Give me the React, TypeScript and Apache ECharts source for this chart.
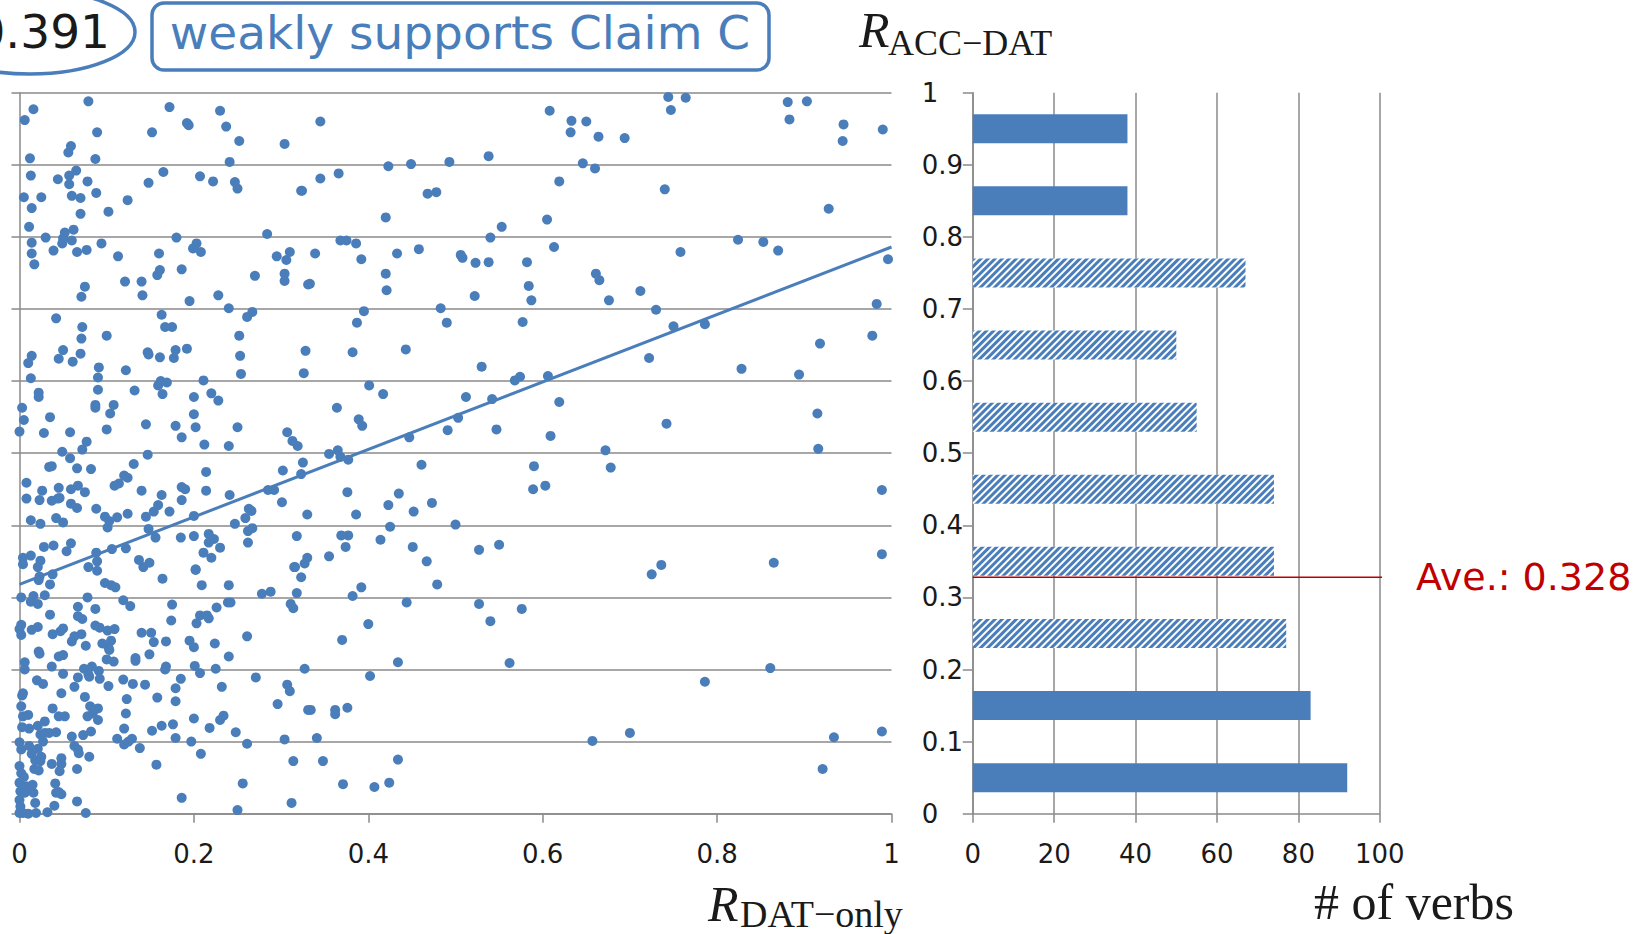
import React, { useEffect, useRef } from "react";
import * as echarts from "echarts";

// ---------- data ----------
// Scatter points [R_DAT-only, R_ACC-DAT], grouped by region of the plot
const UPPER_LEFT: number[][] = [
  [0.016,0.977],[0.006,0.962],[0.079,0.988],[0.172,0.980],[0.192,0.958],[0.194,0.955],[0.230,0.975],[0.237,0.953],[0.252,0.933],[0.304,0.929],
  [0.089,0.945],[0.152,0.945],[0.059,0.926],[0.056,0.917],[0.012,0.909],[0.087,0.908],[0.241,0.904],[0.013,0.885],[0.044,0.880],[0.057,0.885],
  [0.065,0.892],[0.057,0.873],[0.078,0.877],[0.088,0.861],[0.060,0.857],[0.070,0.854],[0.005,0.855],[0.025,0.855],[0.014,0.840],[0.070,0.832],
  [0.102,0.835],[0.124,0.851],[0.148,0.875],[0.165,0.890],[0.207,0.884],[0.222,0.877],[0.247,0.876],[0.250,0.867],[0.323,0.864],[0.011,0.814],
  [0.014,0.792],[0.014,0.777],[0.017,0.762],[0.030,0.799],[0.039,0.781],[0.052,0.806],[0.050,0.798],[0.049,0.791],[0.060,0.795],[0.062,0.810],
  [0.066,0.779],[0.077,0.782],[0.094,0.791],[0.113,0.773],[0.160,0.777],[0.180,0.799],[0.186,0.755],[0.158,0.747],[0.161,0.754],[0.199,0.784],
  [0.203,0.791],[0.208,0.779],[0.121,0.738],[0.140,0.738],[0.141,0.719],[0.075,0.731],[0.071,0.717],[0.195,0.711],[0.228,0.719],[0.240,0.701],
  [0.261,0.689],[0.267,0.696],[0.270,0.746],[0.284,0.804],[0.295,0.773],[0.306,0.768],[0.310,0.779],[0.304,0.749],[0.304,0.739],[0.331,0.734],
  [0.042,0.687],[0.072,0.675],[0.163,0.692],[0.167,0.675],[0.175,0.675],
];
const UPPER_CENTER: number[][] = [
  [0.345,0.960],[0.608,0.975],[0.633,0.961],[0.632,0.945],[0.650,0.960],[0.664,0.939],[0.538,0.912],[0.423,0.898],[0.449,0.901],[0.493,0.904],
  [0.646,0.902],[0.660,0.895],[0.345,0.881],[0.366,0.888],[0.324,0.864],[0.468,0.860],[0.478,0.862],[0.619,0.877],[0.420,0.827],[0.605,0.824],
  [0.553,0.814],[0.540,0.799],[0.368,0.795],[0.375,0.795],[0.386,0.791],[0.339,0.777],[0.392,0.769],[0.433,0.777],[0.458,0.783],[0.506,0.775],
  [0.508,0.771],[0.523,0.764],[0.538,0.765],[0.582,0.765],[0.613,0.786],[0.420,0.749],[0.421,0.726],[0.333,0.735],[0.522,0.718],[0.584,0.732],
  [0.587,0.712],[0.661,0.749],[0.665,0.740],[0.395,0.697],[0.387,0.681],[0.483,0.701],[0.490,0.681],[0.577,0.682],
];
const UPPER_RIGHT: number[][] = [
  [0.694,0.937],[0.744,0.994],[0.764,0.993],[0.747,0.976],[0.881,0.987],[0.903,0.988],[0.883,0.963],[0.945,0.956],[0.944,0.933],[0.990,0.949],
  [0.740,0.866],[0.928,0.839],[0.824,0.796],[0.853,0.793],[0.870,0.781],[0.758,0.779],[0.996,0.769],[0.676,0.712],[0.712,0.725],[0.730,0.699],
  [0.750,0.676],[0.786,0.679],[0.983,0.707],
];
const MIDDLE_LEFT: number[][] = [
  [0.071,0.659],[0.100,0.663],[0.252,0.663],[0.253,0.635],[0.254,0.610],[0.014,0.635],[0.010,0.625],[0.013,0.604],[0.050,0.643],[0.045,0.631],
  [0.061,0.627],[0.070,0.638],[0.091,0.619],[0.090,0.605],[0.090,0.588],[0.122,0.615],[0.147,0.640],[0.148,0.637],[0.161,0.633],[0.179,0.643],
  [0.177,0.632],[0.192,0.645],[0.162,0.600],[0.159,0.594],[0.169,0.598],[0.164,0.582],[0.211,0.601],[0.220,0.583],[0.228,0.573],[0.200,0.578],
  [0.200,0.554],[0.202,0.536],[0.328,0.642],[0.326,0.611],[0.022,0.584],[0.022,0.578],[0.003,0.563],[0.005,0.546],[0.000,0.530],[0.028,0.528],
  [0.035,0.550],[0.058,0.529],[0.087,0.567],[0.087,0.563],[0.108,0.567],[0.104,0.555],[0.100,0.533],[0.132,0.587],[0.145,0.540],[0.179,0.538],
  [0.186,0.522],[0.212,0.512],[0.240,0.510],[0.250,0.536],[0.307,0.529],[0.313,0.517],[0.319,0.510],[0.077,0.516],[0.072,0.505],[0.049,0.502],
  [0.058,0.493],[0.147,0.498],[0.034,0.481],[0.037,0.482],[0.066,0.479],[0.082,0.478],[0.131,0.485],[0.120,0.469],[0.124,0.466],[0.109,0.455],
  [0.114,0.458],[0.008,0.459],[0.008,0.437],[0.026,0.448],[0.023,0.435],[0.037,0.434],[0.045,0.452],[0.046,0.438],[0.044,0.437],[0.059,0.450],
  [0.067,0.455],[0.075,0.446],[0.059,0.430],[0.066,0.424],[0.088,0.423],[0.140,0.448],[0.163,0.442],[0.159,0.428],[0.154,0.419],[0.172,0.419],
  [0.186,0.453],[0.190,0.450],[0.186,0.435],[0.214,0.474],[0.214,0.448],[0.200,0.413],[0.241,0.442],[0.285,0.449],[0.292,0.449],[0.302,0.476],
  [0.301,0.432],[0.325,0.487],[0.323,0.471],[0.263,0.423],[0.266,0.420],[0.259,0.410],[0.262,0.392],[0.267,0.396],[0.262,0.376],[0.330,0.415],
  [0.013,0.407],[0.024,0.402],[0.042,0.410],[0.050,0.404],[0.098,0.412],[0.103,0.406],[0.112,0.411],[0.101,0.397],[0.124,0.416],[0.145,0.412],
  [0.148,0.395],[0.156,0.383],[0.185,0.383],[0.200,0.385],[0.217,0.388],[0.223,0.381],[0.217,0.376],[0.230,0.369],[0.211,0.362],[0.220,0.355],
  [0.247,0.402],[0.318,0.385],[0.028,0.370],[0.039,0.372],[0.059,0.375],[0.054,0.364],[0.004,0.355],[0.013,0.358],[0.024,0.351],[0.004,0.346],
  [0.088,0.362],[0.089,0.350],[0.079,0.342],[0.106,0.367],[0.122,0.368],[0.137,0.352],[0.149,0.348],[0.142,0.342],[0.202,0.339],[0.315,0.342],
  [0.327,0.347],[0.330,0.355],
];
const MIDDLE_CENTER: number[][] = [
  [0.382,0.640],[0.443,0.644],[0.530,0.620],[0.568,0.601],[0.574,0.606],[0.606,0.607],[0.401,0.594],[0.417,0.582],[0.364,0.563],[0.512,0.578],
  [0.542,0.575],[0.619,0.571],[0.389,0.547],[0.393,0.538],[0.447,0.522],[0.491,0.532],[0.503,0.549],[0.547,0.533],[0.609,0.524],[0.355,0.499],
  [0.365,0.504],[0.368,0.495],[0.377,0.491],[0.461,0.484],[0.590,0.482],[0.589,0.450],[0.603,0.455],[0.376,0.446],[0.435,0.444],[0.423,0.428],
  [0.452,0.419],[0.473,0.431],[0.386,0.415],[0.425,0.398],[0.500,0.401],[0.369,0.386],[0.377,0.386],[0.374,0.370],[0.414,0.380],[0.451,0.370],
  [0.527,0.366],[0.550,0.373],[0.355,0.357],[0.467,0.350],
];
const MIDDLE_RIGHT: number[][] = [
  [0.722,0.632],[0.828,0.617],[0.894,0.609],[0.918,0.652],[0.978,0.663],[0.742,0.541],[0.915,0.555],[0.672,0.504],[0.678,0.480],[0.916,0.506],
  [0.989,0.449],[0.736,0.345],[0.865,0.348],[0.989,0.360],
];
const LOWER_LEFT: number[][] = [
  [0.021,0.342],[0.023,0.329],[0.022,0.324],[0.038,0.332],[0.035,0.318],[0.002,0.300],[0.016,0.302],[0.013,0.294],[0.021,0.291],[0.029,0.303],
  [0.089,0.337],[0.164,0.326],[0.202,0.338],[0.209,0.317],[0.240,0.317],[0.098,0.320],[0.105,0.317],[0.110,0.314],[0.078,0.300],[0.316,0.342],
  [0.323,0.328],[0.318,0.306],[0.278,0.305],[0.288,0.308],[0.119,0.296],[0.127,0.288],[0.175,0.290],[0.174,0.268],[0.203,0.264],[0.207,0.275],
  [0.217,0.271],[0.215,0.275],[0.226,0.286],[0.239,0.293],[0.242,0.293],[0.311,0.291],[0.314,0.285],[0.067,0.287],[0.087,0.284],[0.035,0.276],
  [0.067,0.274],[0.072,0.270],[0.002,0.262],[0.000,0.256],[0.002,0.248],[0.014,0.255],[0.021,0.259],[0.038,0.249],[0.047,0.253],[0.050,0.257],
  [0.063,0.246],[0.060,0.239],[0.071,0.249],[0.076,0.233],[0.087,0.261],[0.092,0.258],[0.101,0.254],[0.109,0.256],[0.095,0.236],[0.105,0.240],
  [0.102,0.231],[0.103,0.227],[0.100,0.214],[0.108,0.211],[0.022,0.225],[0.023,0.222],[0.045,0.218],[0.050,0.220],[0.037,0.204],[0.006,0.210],
  [0.006,0.200],[0.140,0.251],[0.151,0.251],[0.154,0.238],[0.168,0.239],[0.195,0.240],[0.200,0.231],[0.224,0.236],[0.261,0.246],[0.240,0.218],
  [0.149,0.221],[0.133,0.216],[0.133,0.212],[0.168,0.204],[0.167,0.200],[0.201,0.205],[0.207,0.195],[0.225,0.201],[0.327,0.201],[0.050,0.194],
  [0.067,0.189],[0.074,0.201],[0.079,0.193],[0.083,0.204],[0.091,0.198],[0.080,0.190],[0.092,0.187],[0.020,0.185],[0.027,0.180],[0.063,0.176],
  [0.102,0.177],[0.119,0.186],[0.130,0.180],[0.144,0.179],[0.185,0.187],[0.179,0.174],[0.179,0.156],[0.158,0.161],[0.123,0.159],[0.232,0.176],
  [0.271,0.189],[0.307,0.179],[0.310,0.170],[0.296,0.152],[0.331,0.144],[0.004,0.167],[0.003,0.164],[0.048,0.167],[0.075,0.162],[0.002,0.149],
  [0.038,0.146],[0.045,0.135],[0.052,0.135],[0.081,0.149],[0.090,0.146],[0.084,0.139],[0.078,0.135],[0.090,0.130],[0.122,0.139],[0.004,0.135],
  [0.010,0.137],[0.003,0.120],[0.011,0.118],[0.021,0.122],[0.029,0.128],[0.024,0.110],[0.029,0.112],[0.034,0.112],[0.027,0.100],[0.042,0.113],
  [0.060,0.107],[0.073,0.109],[0.082,0.114],[0.120,0.118],[0.112,0.104],[0.120,0.096],[0.125,0.100],[0.129,0.104],[0.138,0.091],[0.152,0.115],
  [0.163,0.122],[0.176,0.124],[0.179,0.105],[0.197,0.100],[0.200,0.132],[0.218,0.119],[0.230,0.130],[0.234,0.136],[0.248,0.113],[0.261,0.097],
  [0.304,0.103],[0.208,0.083],[0.157,0.068],[0.314,0.073],[0.256,0.042],[0.186,0.022],[0.250,0.005],[0.312,0.015],[0.000,0.099],[0.002,0.089],
  [0.011,0.094],[0.014,0.083],[0.021,0.090],[0.025,0.079],[0.018,0.074],[0.024,0.073],[0.017,0.062],[0.022,0.060],[0.037,0.069],[0.048,0.077],
  [0.048,0.069],[0.046,0.059],[0.063,0.094],[0.067,0.089],[0.068,0.084],[0.080,0.079],[0.066,0.062],[0.000,0.066],[0.002,0.056],[0.000,0.043],
  [0.005,0.051],[0.008,0.038],[0.001,0.031],[0.006,0.029],[0.015,0.040],[0.016,0.029],[0.018,0.015],[0.000,0.019],[0.001,0.010],[0.004,0.001],
  [0.010,0.000],[0.019,0.001],[0.032,0.002],[0.000,0.001],[0.041,0.042],[0.045,0.030],[0.042,0.029],[0.048,0.027],[0.040,0.011],[0.066,0.017],
  [0.076,0.001],
];
const LOWER_CENTER: number[][] = [
  [0.382,0.302],[0.392,0.314],[0.444,0.293],[0.479,0.318],[0.527,0.291],[0.540,0.267],[0.576,0.284],[0.400,0.263],[0.370,0.241],[0.434,0.210],
  [0.562,0.209],[0.402,0.191],[0.334,0.144],[0.362,0.144],[0.362,0.138],[0.376,0.147],[0.341,0.105],[0.348,0.073],[0.434,0.075],[0.371,0.041],
  [0.407,0.037],[0.424,0.043],[0.657,0.101],
];
const LOWER_RIGHT: number[][] = [
  [0.725,0.332],[0.861,0.202],[0.786,0.183],[0.700,0.112],[0.934,0.106],[0.989,0.114],[0.921,0.062],
];

// Linear trend line end points
const TREND_LINE: number[][] = [[0, 0.318], [1, 0.786]];

// Histogram of R_ACC-DAT (bins of 0.1)
const BIN_LABELS = ["0-0.1", "0.1-0.2", "0.2-0.3", "0.3-0.4", "0.4-0.5", "0.5-0.6", "0.6-0.7", "0.7-0.8", "0.8-0.9", "0.9-1"];
const BIN_COUNTS = [92, 83, 77, 74, 74, 55, 50, 67, 38, 38];
const BIN_HATCHED = [false, false, true, true, true, true, true, true, false, false];

const AVERAGE = 0.328;
const AVERAGE_LINE_END = 103;
const CORRELATION_TEXT = "0.391";
const CLAIM_TEXT = "weakly supports Claim C";

// ---------- styles ----------
const BLUE = "#4a7ebb";
const GRAY = "#8a8a8a";
const RED = "#c00000";
const TEXT = "#1a1a1a";
const SANS = '"DejaVu Sans", Verdana, sans-serif';
const SERIF = '"Liberation Serif", "Times New Roman", serif';

export default function App() {
  const ref = useRef<HTMLDivElement>(null);

  useEffect(() => {
    if (!ref.current) return;
    const chart = echarts.init(ref.current, undefined, { renderer: "svg" });

    const scatterData = [
      ...UPPER_LEFT, ...UPPER_CENTER, ...UPPER_RIGHT,
      ...MIDDLE_LEFT, ...MIDDLE_CENTER, ...MIDDLE_RIGHT,
      ...LOWER_LEFT, ...LOWER_CENTER, ...LOWER_RIGHT,
    ];

    const axisLine = { show: true, onZero: false, lineStyle: { color: GRAY, width: 1.5 } };
    const tickLabel = { fontSize: 26, fontFamily: SANS, color: TEXT };

    const solidData = BIN_COUNTS.map((v, i) => (BIN_HATCHED[i] ? "-" : v));
    const hatchData = BIN_COUNTS.map((v, i) => (BIN_HATCHED[i] ? v : "-"));

    const left = (extra: any) => ({ align: "left", verticalAlign: "middle", textAlign: "left", textVerticalAlign: "middle", ...extra });

    const option: any = {
      animation: false,
      backgroundColor: "#ffffff",
      grid: [
        { left: 19.5, top: 92.7, width: 872, height: 721 },
        { left: 972.8, top: 92.7, width: 407, height: 721 },
      ],
      xAxis: [
        {
          type: "value", gridIndex: 0, min: 0, max: 1, interval: 0.2,
          axisLine, axisTick: { show: true, length: 9, lineStyle: { color: GRAY, width: 1.5 } },
          axisLabel: { ...tickLabel, margin: 27 },
          splitLine: { show: false },
        },
        {
          type: "value", gridIndex: 1, min: 0, max: 100, interval: 20,
          axisLine, axisTick: { show: true, length: 9, lineStyle: { color: GRAY, width: 1.5 } },
          axisLabel: { ...tickLabel, margin: 27 },
          splitLine: { show: true, lineStyle: { color: GRAY, width: 1.5 } },
        },
      ],
      yAxis: [
        {
          type: "value", gridIndex: 0, min: 0, max: 1, interval: 0.1,
          axisLine, axisTick: { show: true, length: 8, lineStyle: { color: GRAY, width: 1.5 } },
          axisLabel: { show: false },
          splitLine: { show: true, lineStyle: { color: GRAY, width: 1.5 } },
        },
        {
          type: "category", gridIndex: 1, position: "right", data: BIN_LABELS, show: false,
        },
        {
          type: "value", gridIndex: 1, position: "left", min: 0, max: 1, interval: 0.1,
          axisLine, axisTick: { show: true, length: 10, lineStyle: { color: GRAY, width: 1.5 } },
          axisLabel: { ...tickLabel, align: "left", margin: 51 },
          splitLine: { show: false },
        },
      ],
      series: [
        {
          type: "scatter", xAxisIndex: 0, yAxisIndex: 0, data: scatterData,
          symbolSize: 10, itemStyle: { color: BLUE, opacity: 1 }, z: 2,
        },
        {
          type: "line", xAxisIndex: 0, yAxisIndex: 0, data: TREND_LINE,
          symbol: "none", lineStyle: { color: BLUE, width: 3 }, z: 3,
        },
        {
          type: "bar", xAxisIndex: 1, yAxisIndex: 1, data: solidData,
          barWidth: 29, itemStyle: { color: BLUE },
        },
        {
          type: "bar", xAxisIndex: 1, yAxisIndex: 1, data: hatchData,
          barWidth: 29, barGap: "-100%",
          itemStyle: {
            color: "#ffffff",
            decal: {
              symbol: "rect", symbolSize: 1, color: BLUE,
              dashArrayX: [1, 0], dashArrayY: [2.4, 2], rotation: -Math.PI / 4,
            },
          },
        },
        {
          type: "line", xAxisIndex: 1, yAxisIndex: 2,
          data: [[0, AVERAGE], [AVERAGE_LINE_END, AVERAGE]],
          symbol: "none", clip: false, z: 5,
          lineStyle: { color: RED, width: 1.5 },
          endLabel: {
            show: true, formatter: `Ave.: ${AVERAGE}`, color: RED,
            fontSize: 38, fontFamily: SANS, distance: 34,
          },
        },
      ],
      graphic: [
        {
          type: "ellipse", shape: { cx: 30, cy: 32, rx: 105, ry: 42 },
          style: { fill: "none", stroke: BLUE, lineWidth: 3.5 },
        },
        {
          type: "text", x: 110, y: 31,
          style: { text: CORRELATION_TEXT, fontSize: 47, fontFamily: SANS, fill: TEXT, align: "right", verticalAlign: "middle", textAlign: "right", textVerticalAlign: "middle" },
        },
        {
          type: "rect", shape: { x: 152, y: 3, width: 617, height: 67, r: 12 },
          style: { fill: "none", stroke: BLUE, lineWidth: 3.5 },
        },
        {
          type: "text", x: 460, y: 32,
          style: { text: CLAIM_TEXT, fontSize: 47, fontFamily: SANS, fill: BLUE, align: "center", verticalAlign: "middle", textAlign: "center", textVerticalAlign: "middle" },
        },
        { type: "text", x: 859, y: 30, style: left({ text: "R", fontSize: 50, fontStyle: "italic", fontFamily: SERIF, fill: TEXT }) },
        { type: "text", x: 888, y: 43, style: left({ text: "ACC\u2212DAT", fontSize: 36, fontFamily: SERIF, fill: TEXT }) },
        { type: "text", x: 708, y: 904, style: left({ text: "R", fontSize: 50, fontStyle: "italic", fontFamily: SERIF, fill: TEXT }) },
        { type: "text", x: 740, y: 914, style: left({ text: "DAT\u2212only", fontSize: 38, fontFamily: SERIF, fill: TEXT }) },
        { type: "text", x: 1314, y: 902, style: left({ text: "# of verbs", fontSize: 50, fontFamily: SERIF, fill: TEXT }) },
      ],
    };

    chart.setOption(option);
    return () => chart.dispose();
  }, []);

  return (
    <div
      ref={ref}
      style={{ position: "fixed", left: 0, top: 0, width: 1633, height: 934, background: "#fff" }}
    />
  );
}
